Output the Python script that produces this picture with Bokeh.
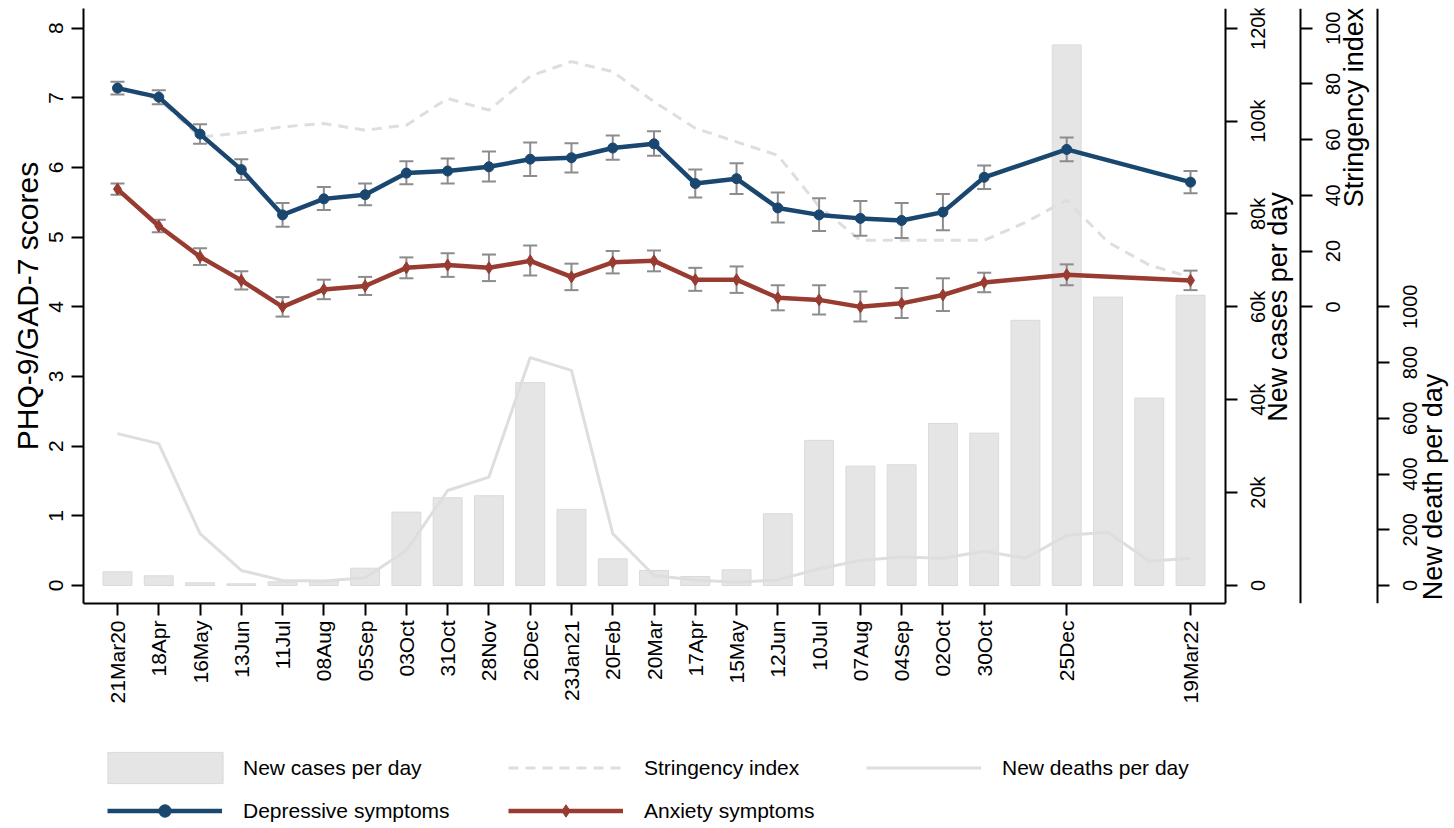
import math
from bokeh.plotting import figure
from bokeh.layouts import column
from bokeh.models import Range1d, LinearAxis, FixedTicker, Legend, LegendItem, ColumnDataSource
from bokeh.core.properties import value
from bokeh.embed import file_html
from bokeh.resources import INLINE

FONT = "Liberation Sans"
NAN = float("nan")

# ---------------- data ----------------
# 4-weekly periods, index 0 = 21Mar20 ... index 26 = 19Mar22
period_idx = list(range(27))
tick_idx = list(range(22)) + [23, 26]
tick_labels = ["21Mar20", "18Apr", "16May", "13Jun", "11Jul", "08Aug", "05Sep", "03Oct",
               "31Oct", "28Nov", "26Dec", "23Jan21", "20Feb", "20Mar", "17Apr", "15May",
               "12Jun", "10Jul", "07Aug", "04Sep", "02Oct", "30Oct", "25Dec", "19Mar22"]

new_cases = [2950, 2090, 580, 360, 800, 930, 3730, 15800, 18900, 19330, 43680, 16400, 5750,
             3230, 1940, 3380, 15450, 31250, 25700, 26000, 34900, 32800, 57100, 116400,
             62100, 40350, 62500]
stringency = [78.5, 74.5, 60.9, 62.5, 64.6, 65.8, 63.4, 65.2, 74.8, 70.6, 82.8, 88.0, 84.4,
              73.6, 64.1, 59.2, 54.4, 36.0, 23.9, 23.9, 23.9, 23.9, 30.3, 38.3, 23.2, 15.0, 10.6]
new_deaths = [545, 509, 186, 54, 18, 16, 28, 126, 341, 389, 818, 772, 186, 36, 20, 12, 20, 60,
              90, 102, 98, 123, 98, 180, 191, 87, 98]

score_idx = tick_idx
dep = [7.14, 7.01, 6.48, 5.97, 5.32, 5.55, 5.61, 5.92, 5.95, 6.01, 6.12, 6.14, 6.28, 6.34,
       5.77, 5.84, 5.42, 5.32, 5.27, 5.24, 5.36, 5.86, 6.26, 5.79]
dep_lo = [7.05, 6.91, 6.34, 5.82, 5.15, 5.39, 5.46, 5.76, 5.77, 5.80, 5.88, 5.93, 6.11, 6.17,
          5.57, 5.62, 5.21, 5.09, 5.02, 4.99, 5.10, 5.69, 6.09, 5.63]
dep_hi = [7.23, 7.11, 6.62, 6.12, 5.49, 5.72, 5.77, 6.09, 6.13, 6.23, 6.36, 6.35, 6.46, 6.52,
          5.97, 6.06, 5.64, 5.56, 5.52, 5.49, 5.62, 6.03, 6.43, 5.95]
anx = [5.69, 5.16, 4.72, 4.38, 4.00, 4.25, 4.30, 4.56, 4.60, 4.56, 4.66, 4.43, 4.64, 4.66,
       4.39, 4.39, 4.13, 4.10, 4.00, 4.05, 4.17, 4.35, 4.46, 4.38]
anx_lo = [5.61, 5.07, 4.60, 4.25, 3.86, 4.11, 4.17, 4.41, 4.43, 4.37, 4.45, 4.24, 4.48, 4.51,
          4.23, 4.20, 3.95, 3.89, 3.79, 3.84, 3.94, 4.21, 4.31, 4.24]
anx_hi = [5.77, 5.25, 4.84, 4.51, 4.14, 4.39, 4.43, 4.71, 4.77, 4.75, 4.88, 4.62, 4.80, 4.81,
          4.56, 4.58, 4.31, 4.31, 4.22, 4.27, 4.41, 4.49, 4.61, 4.52]

left_ticks = [0, 1, 2, 3, 4, 5, 6, 7, 8]
case_ticks = [0, 20000, 40000, 60000, 80000, 100000, 120000]
case_tick_labels = ["0", "20k", "40k", "60k", "80k", "100k", "120k"]
string_ticks = [0, 20, 40, 60, 80, 100]
string_tick_labels = ["0", "20", "40", "60", "80", "100"]
death_ticks = [0, 200, 400, 600, 800, 1000]
death_tick_labels = ["0", "200", "400", "600", "800", "1000"]

# ---------------- colours ----------------
BLUE = "#1a476f"
RED = "#983c31"
BAR = "#e5e5e5"
BAR_EDGE = "#dadada"
LGRAY = "#dedede"
WHISK = "#8c8c8c"

# ---------------- layout geometry (pixels) ----------------
W = 1454
H_MAIN = 710
H_LEG = 118
FRAME_L, FRAME_T, FRAME_B = 83, 8, 603
PX_X = 41.27          # pixels per period
PX_Y = 69.66          # pixels per score unit
X_START = (FRAME_L - 117) / PX_X
X_END = X_START + (W - FRAME_L) / PX_X
Y0 = -(FRAME_B - 585) / PX_Y
Y1 = 8 + (27.7 - FRAME_T) / PX_Y


def px_x(px):
    return X_START + (px - FRAME_L) / PX_X


def px_y(py):
    return (585 - py) / PX_Y


AXIS_CASES_PX, AXIS_STRING_PX, AXIS_DEATH_PX = 1225, 1300, 1377

p = figure(width=W, height=H_MAIN, x_range=Range1d(X_START, X_END), y_range=Range1d(Y0, Y1),
           output_backend="svg", toolbar_location=None,
           min_border_left=FRAME_L, min_border_right=0, min_border_top=FRAME_T,
           min_border_bottom=H_MAIN - FRAME_B)
p.outline_line_color = None
p.grid.visible = False
p.background_fill_color = "white"
p.border_fill_color = "white"

# secondary scales: 15000 cases = 1 score unit, stringency 0..100 -> 4..8, deaths 0..1000 -> 0..4
p.extra_y_ranges = {
    "cases": Range1d(Y0 * 15000, Y1 * 15000),
    "string": Range1d((Y0 - 4) / 0.04, (Y1 - 4) / 0.04),
    "death": Range1d(Y0 / 0.004, Y1 / 0.004),
}

p.vbar(x=period_idx, top=new_cases, width=0.7, y_range_name="cases",
       fill_color=BAR, line_color=BAR_EDGE, line_width=1)
p.line(period_idx, new_deaths, y_range_name="death", line_color=LGRAY, line_width=3)
p.line(period_idx, stringency, y_range_name="string", line_color=LGRAY,
       line_width=3, line_dash="10 7")

src_dep = ColumnDataSource(dict(x=score_idx, y=dep, lo=dep_lo, hi=dep_hi))
src_anx = ColumnDataSource(dict(x=score_idx, y=anx, lo=anx_lo, hi=anx_hi))
for s in (src_dep, src_anx):
    p.segment(x0="x", y0="lo", x1="x", y1="hi", source=s, line_color=WHISK, line_width=2)
    p.scatter(x="x", y="lo", source=s, marker="dash", size=14, line_color=WHISK, line_width=2)
    p.scatter(x="x", y="hi", source=s, marker="dash", size=14, line_color=WHISK, line_width=2)

p.line(x="x", y="y", source=src_dep, line_color=BLUE, line_width=4.5)
p.scatter(x="x", y="y", source=src_dep, marker="circle", size=10, fill_color=BLUE, line_color=BLUE)
p.line(x="x", y="y", source=src_anx, line_color=RED, line_width=4.5)
p.scatter(x="x", y="y", source=src_anx, marker="diamond", size=12, fill_color=RED, line_color=RED)


def style_axis(ax, ticks):
    ax.ticker = FixedTicker(ticks=ticks)
    ax.axis_line_color = "black"
    ax.axis_line_width = 2
    ax.major_tick_line_color = "black"
    ax.major_tick_line_width = 2
    ax.major_tick_out = 12
    ax.major_tick_in = 0
    ax.minor_tick_line_color = None
    ax.major_label_text_font = FONT
    ax.major_label_text_color = "black"
    ax.axis_label_text_font = FONT
    ax.axis_label_text_font_style = "normal"
    ax.axis_label_text_color = "black"


# bottom axis (only under the data area)
xa = p.xaxis[0]
style_axis(xa, tick_idx)
xa.major_label_overrides = {i: t for i, t in zip(tick_idx, tick_labels)}
xa.major_label_orientation = math.pi / 2
xa.major_label_text_font_size = "21px"
xa.major_label_standoff = 5
xa.bounds = (X_START, px_x(AXIS_CASES_PX))

# left axis
ya = p.yaxis[0]
style_axis(ya, left_ticks)
ya.major_label_orientation = "vertical"
ya.major_label_text_font_size = "21px"
ya.major_label_standoff = 8
ya.axis_label = "PHQ-9/GAD-7 scores"
ya.axis_label_text_font_size = "30px"
ya.axis_label_standoff = 3

# right-hand axes (lines and ticks); their labels are drawn as bottom-to-top text below
for rng, ticks, px in (("cases", case_ticks, AXIS_CASES_PX),
                       ("string", string_ticks, AXIS_STRING_PX),
                       ("death", death_ticks, AXIS_DEATH_PX)):
    ax = LinearAxis(y_range_name=rng, fixed_location=px_x(px))
    style_axis(ax, ticks)
    ax.major_label_overrides = {v: "" for v in ticks}
    p.add_layout(ax, "right")

for rng, ticks, labels, px in (("cases", case_ticks, case_tick_labels, 1257),
                               ("string", string_ticks, string_tick_labels, 1332),
                               ("death", death_ticks, death_tick_labels, 1409)):
    p.text(x=[px_x(px)] * len(ticks), y=ticks, text=labels, y_range_name=rng,
           angle=math.pi / 2, text_align="center", text_baseline="alphabetic",
           text_font=value(FONT), text_font_size="20px", text_color="black")

right_titles = ["New cases per day", "Stringency index", "New death per day"]
title_base_px = [1277, 1353, 1432]
title_center_py = [306.5, 107, 486.5]
p.text(x=[px_x(v) for v in title_base_px], y=[px_y(v) for v in title_center_py],
       text=right_titles, angle=math.pi / 2, text_align="center", text_baseline="alphabetic",
       text_font=value(FONT), text_font_size="27px", text_color="black")

# ---------------- legend strip ----------------
pl = figure(width=W, height=H_LEG, x_range=Range1d(0, 1), y_range=Range1d(0, 1),
            output_backend="svg", toolbar_location=None,
            min_border_left=0, min_border_right=0, min_border_top=0, min_border_bottom=0)
pl.outline_line_color = None
pl.grid.visible = False
pl.axis.visible = False
pl.background_fill_color = "white"
pl.border_fill_color = "white"

# legend keys only (no visible marks: NaN coordinates)
k_bar = pl.vbar(x=[NAN], top=[NAN], width=0.5, fill_color=BAR, line_color=BAR_EDGE)
k_str = pl.line(x=[NAN], y=[NAN], line_color=LGRAY, line_width=3, line_dash="10 7")
k_dth = pl.line(x=[NAN], y=[NAN], line_color=LGRAY, line_width=3)
k_dep_l = pl.line(x=[NAN], y=[NAN], line_color=BLUE, line_width=4.5)
k_dep_p = pl.scatter(x=[NAN], y=[NAN], marker="circle", fill_color=BLUE, line_color=BLUE)
k_anx_l = pl.line(x=[NAN], y=[NAN], line_color=RED, line_width=4.5)
k_anx_p = pl.scatter(x=[NAN], y=[NAN], marker="diamond", fill_color=RED, line_color=RED)


def make_legend(label, renderers, loc, gw=115, gh=31, standoff=21):
    lg = Legend(items=[LegendItem(label=label, renderers=renderers)], location=loc)
    lg.glyph_width = gw
    lg.glyph_height = gh
    lg.label_standoff = standoff
    lg.label_height = gh
    lg.padding = 0
    lg.margin = 0
    lg.spacing = 0
    lg.border_line_color = None
    lg.background_fill_alpha = 0
    lg.label_text_font = FONT
    lg.label_text_font_size = "21px"
    lg.label_text_color = "black"
    return lg


# legend frame is aligned with the main frame (left edge at px 83)
legends = [
    make_legend("New cases per day", [k_bar], (10, 41), gw=144, gh=39, standoff=6),
    make_legend("Stringency index", [k_str], (425, 45)),
    make_legend("New deaths per day", [k_dth], (783, 45)),
    make_legend("Depressive symptoms", [k_dep_l, k_dep_p], (24, 2)),
    make_legend("Anxiety symptoms", [k_anx_l, k_anx_p], (425, 2)),
]
for lg in legends:
    pl.add_layout(lg)

layout = column(p, pl)
open("out.html", "w").write(file_html(layout, INLINE))
